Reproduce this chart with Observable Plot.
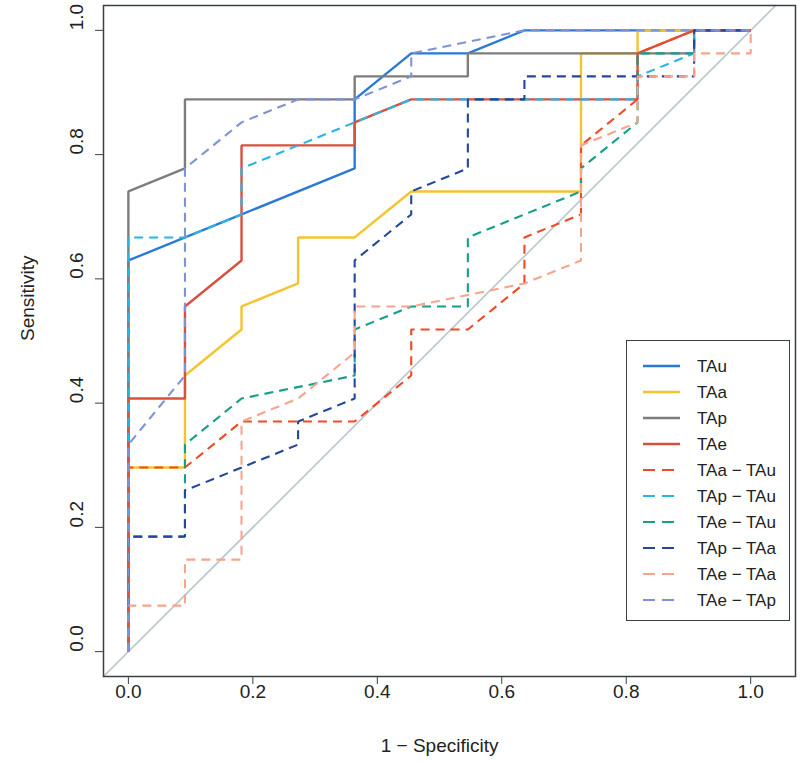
<!DOCTYPE html>
<html><head><meta charset="utf-8">
<script src="https://cdn.jsdelivr.net/npm/d3@7"></script>
<script src="https://cdn.jsdelivr.net/npm/@observablehq/plot@0.6"></script>
<style>
body{margin:0;background:#fff;font-family:"Liberation Sans",Arial,sans-serif;}
#wrap{position:relative;width:800px;height:762px;}
#legend{position:absolute;left:626px;top:340px;width:164px;height:281px;border:1.5px solid #3a3f44;background:#fff;box-sizing:border-box;}
</style></head><body><div id="wrap"></div>
<script>
// Axis ticks
const xTicks = [0, 0.2, 0.4, 0.6, 0.8, 1.0];
const yTicks = [0, 0.2, 0.4, 0.6, 0.8, 1.0];
const diagX = [-0.04, 1.04];
const diagY = [-0.04, 1.04];

// Series
const seriesNames  = ["TAu", "TAa", "TAp", "TAe", "TAa \u2212 TAu", "TAp \u2212 TAu", "TAe \u2212 TAu", "TAp \u2212 TAa", "TAe \u2212 TAa", "TAe \u2212 TAp"];
const seriesColors = ["#2a7ad5", "#f4c330", "#7d7d7d", "#d9503f", "#ef4a25", "#27b5e5", "#14a088", "#23479b", "#f7a48c", "#7f92d8"];
const seriesDashed = [false, false, false, false, true, true, true, true, true, true];

// ROC curves: 1 - specificity (fpr) and sensitivity (tpr)
const TAu_fpr = [0, 0, 0.3636, 0.3636, 0.4545, 0.5455, 0.6364, 1];
const TAu_tpr = [0, 0.6296, 0.7778, 0.8889, 0.9630, 0.9630, 1, 1];

const TAa_fpr = [0, 0, 0.0909, 0.0909, 0.1818, 0.1818, 0.2727, 0.2727, 0.3636, 0.4545, 0.7273, 0.7273, 0.8182, 0.8182, 1];
const TAa_tpr = [0, 0.2963, 0.2963, 0.4444, 0.5185, 0.5556, 0.5926, 0.6667, 0.6667, 0.7407, 0.7407, 0.9630, 0.9630, 1, 1];

const TAp_fpr = [0, 0, 0.0909, 0.0909, 0.3636, 0.3636, 0.5455, 0.5455, 0.9091, 0.9091, 1];
const TAp_tpr = [0, 0.7407, 0.7778, 0.8889, 0.8889, 0.9259, 0.9259, 0.9630, 0.9630, 1, 1];

const TAe_fpr = [0, 0, 0.0909, 0.0909, 0.1818, 0.1818, 0.3636, 0.3636, 0.4545, 0.8182, 0.8182, 0.9091, 1];
const TAe_tpr = [0, 0.4074, 0.4074, 0.5556, 0.6296, 0.8148, 0.8148, 0.8519, 0.8889, 0.8889, 0.9630, 1, 1];

const TAaTAu_fpr = [0, 0, 0.0909, 0.1818, 0.3636, 0.4545, 0.4545, 0.5455, 0.6364, 0.6364, 0.7273, 0.7273, 0.8182, 0.8182, 0.9091, 1];
const TAaTAu_tpr = [0, 0.2963, 0.2963, 0.3704, 0.3704, 0.4444, 0.5185, 0.5185, 0.5926, 0.6667, 0.7037, 0.8148, 0.8889, 0.9630, 1, 1];

const TApTAu_fpr = [0, 0, 0.0909, 0.1818, 0.1818, 0.3636, 0.4545, 0.8182, 0.8182, 0.9091, 0.9091, 1];
const TApTAu_tpr = [0, 0.6667, 0.6667, 0.7037, 0.7778, 0.8519, 0.8889, 0.8889, 0.9259, 0.9630, 1, 1];

const TAeTAu_fpr = [0, 0, 0.0909, 0.0909, 0.1818, 0.3636, 0.3636, 0.4545, 0.5455, 0.5455, 0.7273, 0.7273, 0.8182, 0.8182, 0.9091, 0.9091, 1];
const TAeTAu_tpr = [0, 0.1852, 0.1852, 0.3333, 0.4074, 0.4444, 0.5185, 0.5556, 0.5556, 0.6667, 0.7407, 0.7778, 0.8519, 0.9630, 0.9630, 1, 1];

const TApTAa_fpr = [0, 0, 0.0909, 0.0909, 0.2727, 0.2727, 0.3636, 0.3636, 0.4545, 0.4545, 0.5455, 0.5455, 0.6364, 0.6364, 0.8182, 0.9091, 0.9091, 1];
const TApTAa_tpr = [0, 0.1852, 0.1852, 0.2593, 0.3333, 0.3704, 0.4074, 0.6296, 0.7037, 0.7407, 0.7778, 0.8889, 0.8889, 0.9259, 0.9259, 0.9259, 1, 1];

const TAeTAa_fpr = [0, 0, 0.0909, 0.0909, 0.1818, 0.1818, 0.2727, 0.3636, 0.3636, 0.4545, 0.6364, 0.7273, 0.7273, 0.8182, 0.8182, 0.9091, 0.9091, 1, 1];
const TAeTAa_tpr = [0, 0.0741, 0.0741, 0.1481, 0.1481, 0.3704, 0.4074, 0.4815, 0.5556, 0.5556, 0.5926, 0.6296, 0.8148, 0.8519, 0.9259, 0.9259, 0.9630, 0.9630, 1];

const TAeTAp_fpr = [0, 0, 0.0909, 0.0909, 0.1818, 0.2727, 0.3636, 0.4545, 0.4545, 0.6364, 1];
const TAeTAp_tpr = [0, 0.3333, 0.4444, 0.7778, 0.8519, 0.8889, 0.8889, 0.9259, 0.9630, 1, 1];

const seriesFpr = [TAu_fpr, TAa_fpr, TAp_fpr, TAe_fpr, TAaTAu_fpr, TApTAu_fpr, TAeTAu_fpr, TApTAa_fpr, TAeTAa_fpr, TAeTAp_fpr];
const seriesTpr = [TAu_tpr, TAa_tpr, TAp_tpr, TAe_tpr, TAaTAu_tpr, TApTAu_tpr, TAeTAu_tpr, TApTAa_tpr, TAeTAa_tpr, TAeTAp_tpr];

const font = '"Liberation Sans", Arial, sans-serif';
const dash = "9,6";

const marks = [
  Plot.line(diagX.map((x, i) => ({x, y: diagY[i]})), {x: "x", y: "y", stroke: "#b9c6cc", strokeWidth: 1.6})
];
seriesNames.forEach((name, s) => {
  const pts = seriesFpr[s].map((x, i) => ({x, y: seriesTpr[s][i]}));
  marks.push(Plot.line(pts, {
    x: "x", y: "y", stroke: seriesColors[s],
    strokeWidth: seriesDashed[s] ? 2.1 : 2.4,
    strokeDasharray: seriesDashed[s] ? dash : null,
    strokeLinejoin: "miter", strokeLinecap: "butt"
  }));
});
marks.push(
  Plot.frame({stroke: "#3a3f44", strokeWidth: 1.5}),
  Plot.axisX({ticks: xTicks, tickSize: 8, tickFormat: () => "", label: null, stroke: "#3a3f44"}),
  Plot.axisY({ticks: yTicks, tickSize: 8, tickFormat: () => "", label: null, stroke: "#3a3f44"}),
  Plot.text(xTicks, {x: d => d, frameAnchor: "bottom", dy: 15, text: d => d.toFixed(1), fontSize: 19, fill: "#222", lineAnchor: "middle"}),
  Plot.text(yTicks, {y: d => d, frameAnchor: "left", dx: -27, text: d => d.toFixed(1), fontSize: 19, fill: "#222", rotate: -90, lineAnchor: "middle"}),
  Plot.text(["1 \u2212 Specificity"], {x: 0.5, frameAnchor: "bottom", dy: 69, text: d => d, fontSize: 19, fill: "#222", lineAnchor: "middle"}),
  Plot.text(["Sensitivity"], {y: 0.5, frameAnchor: "left", dx: -76, text: d => d, fontSize: 19, fill: "#222", rotate: -90, lineAnchor: "middle"})
);

const chart = Plot.plot({
  width: 800, height: 762,
  marginLeft: 103, marginRight: 5, marginTop: 5, marginBottom: 86,
  style: {fontFamily: font, background: "#fff", overflow: "visible"},
  x: {domain: [-0.04, 1.072], axis: null},
  y: {domain: [-0.04, 1.04], axis: null},
  marks
});
const wrap = document.getElementById("wrap");
wrap.appendChild(chart);

// Legend
const leg = document.createElement("div");
leg.id = "legend";
wrap.appendChild(leg);
const lsvg = d3.select(leg).append("svg").attr("width", 162).attr("height", 279);
seriesNames.forEach((name, s) => {
  const y = 25 + s * 26;
  lsvg.append("line").attr("x1", 16).attr("x2", 53).attr("y1", y).attr("y2", y)
    .attr("stroke", seriesColors[s]).attr("stroke-width", seriesDashed[s] ? 2.1 : 2.6)
    .attr("stroke-dasharray", seriesDashed[s] ? "12,7" : null);
  lsvg.append("text").attr("x", 70).attr("y", y).attr("dy", "0.35em")
    .attr("font-family", font).attr("font-size", 17).attr("fill", "#222").text(name);
});
</script>
</body></html>
